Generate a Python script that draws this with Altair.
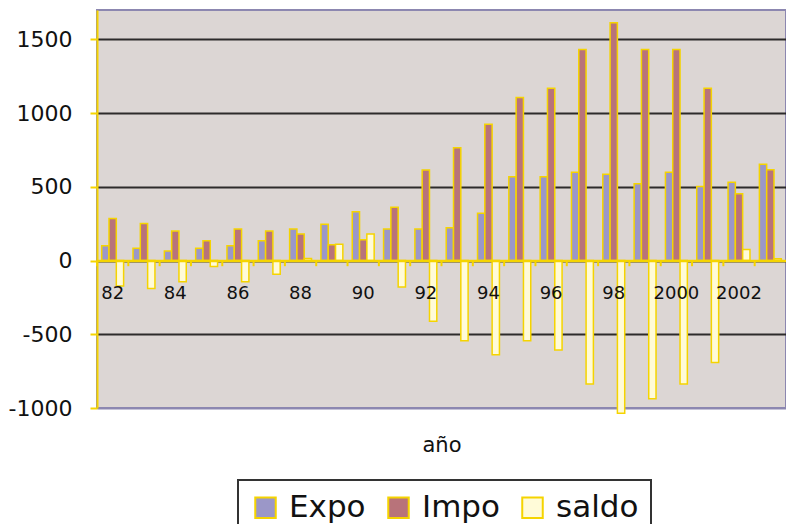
import altair as alt
import pandas as pd

# ---- data ----
years = list(range(1982, 2004))
expo = [100, 84, 65, 84, 100, 135, 214, 246, 332, 214, 214,
        222, 322, 569, 569, 600, 585, 521, 600, 503, 532, 653]
impo = [286, 251, 200, 135, 214, 200, 181, 107, 142, 362, 615,
        766, 925, 1106, 1169, 1432, 1613, 1432, 1432, 1169, 453, 616]
saldo = [-172, -190, -144, -40, -144, -93, 14, 111, 181, -179, -411,
         -544, -639, -544, -607, -838, -1036, -938, -838, -691, 75, 12]
series = ["Expo", "Impo", "saldo"]
y_ticks = [-1000, -500, 0, 500, 1000, 1500]

colors = ["#9b97c8", "#b8737a", "#fffbd8"]
GOLD = "#f5d400"
FONT = "DejaVu Sans"

rows = []
for i, yr in enumerate(years):
    for s, vals in zip(series, [expo, impo, saldo]):
        rows.append({"year": yr, "serie": s, "valor": vals[i]})
df = pd.DataFrame(rows)
ticks_df = pd.DataFrame({"year": years})

YMIN, YMAX = -1000, 1700
W, H = 689, 398
x_axis_offset = -H * (0 - YMIN) / (YMAX - YMIN)
PAD_IN = 0.3
half_gap = PAD_IN / 2 * W / (len(years) - PAD_IN + 2 * 0.15)

xscale = alt.Scale(paddingInner=PAD_IN, paddingOuter=0.15)
yscale = alt.Scale(domain=[YMIN, YMAX], nice=False)

label_expr = ("datum.value % 2 == 1 ? '' : (datum.value < 2000 ? "
              "slice(toString(datum.value), 2) : toString(datum.value))")

bars = alt.Chart(df).mark_bar(stroke=GOLD, strokeWidth=1.5).encode(
    x=alt.X(
        "year:O", scale=xscale,
        axis=alt.Axis(
            title="año", offset=x_axis_offset, domainColor=GOLD, domainWidth=2.5,
            ticks=False, labelAngle=0, labelPadding=24, labelFont=FONT,
            labelFontSize=18, labelColor="#111", labelExpr=label_expr,
            titleFont=FONT, titleFontSize=21, titleFontWeight="normal",
            titleColor="#111", titleY=185, titleBaseline="middle", grid=False,
            zindex=1,
        ),
    ),
    xOffset=alt.XOffset("serie:N", sort=series,
                        scale=alt.Scale(paddingInner=0, paddingOuter=0)),
    y=alt.Y(
        "valor:Q", scale=yscale,
        axis=alt.Axis(
            values=y_ticks, title=None, labelExpr="toString(datum.value)",
            gridColor={"condition": {"test": "datum.value === -1000", "value": "#8c87b0"},
                       "value": "#2d2b2b"},
            gridWidth=2, domainColor=GOLD, domainWidth=2, tickColor=GOLD,
            tickSize=7, tickWidth=2, labelFont=FONT, labelFontSize=22,
            labelColor="#111", labelPadding=18, zindex=0,
        ),
    ),
    fill=alt.Fill(
        "serie:N", scale=alt.Scale(domain=series, range=colors),
        legend=alt.Legend(
            title=None, orient="none", legendX=141, legendY=470, direction="horizontal",
            symbolType="square", symbolSize=420, symbolStrokeColor=GOLD,
            symbolStrokeWidth=2, labelFont=FONT, labelFontSize=31,
            labelColor="#111", labelOffset=8, columnPadding=17, strokeColor="#333",
            padding=12, fillColor="white",
        ),
    ),
)

tick_rules = alt.Chart(ticks_df).mark_rule(color=GOLD, strokeWidth=2).encode(
    x=alt.X("year:O", bandPosition=0, scale=xscale),
    xOffset=alt.value(-half_gap),
    y=alt.datum(0),
    y2=alt.datum(-38),
)

chart = alt.layer(bars, tick_rules).properties(
    width=W, height=H,
    autosize=alt.AutoSizeParams(type="none"),
    padding={"left": 89, "top": 2, "right": 0, "bottom": 116},
    background="white",
).configure_view(fill="#dcd6d4", stroke="#8c87b0", strokeWidth=2
).configure_legend(strokeWidth=2)

chart.save("out.html", embed_options={"renderer": "svg", "actions": False})
